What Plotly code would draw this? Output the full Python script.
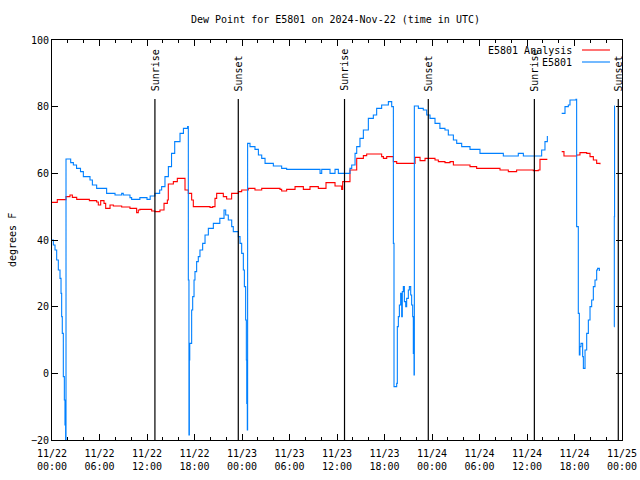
import plotly.graph_objects as go

# hours since 11/22 00:00 UTC
analysis_hours = [0.0, 0.67, 1.77, 2.27, 2.57, 3.12, 4.72, 5.64, 5.85, 6.15, 6.57, 6.78, 7.33, 7.75,
                  8.8, 9.85, 10.69, 10.9, 11.1, 12.59, 13.01, 13.64, 14.15, 14.57, 14.69, 15.33,
                  15.83, 16.59, 16.8, 17.22, 17.64, 17.85, 19.96, 20.3, 20.59, 20.8, 21.64, 22.06,
                  22.69, 23.54, 23.96, 24.8, 25.64, 26.49, 28.8, 29.01, 29.64, 30.7, 31.75, 32.59,
                  33.64, 34.61, 35.75, 36.59, 36.72, 37.64, 38.49, 39.33, 39.75, 41.64, 41.86,
                  42.28, 43.12, 43.54, 44.59, 45.86, 46.49, 47.12, 48.38, 48.8, 49.64, 50.28,
                  50.7, 52.8, 53.64, 56.59, 57.64, 58.69, 60.8, 61.43, 61.64, 62.57, 63.5,
                  64.38, 64.67, 66.27, 66.69, 67.54, 67.96, 68.38, 68.8, 69.22, 70.0,
                  71.0, 71.1]
analysis_dewpt = [51.3, 52.1, 53.0, 53.5, 52.8, 52.2, 51.8, 51.4, 50.5, 51.8, 51.0, 49.5, 50.5, 50.2,
                  49.9, 49.5, 48.2, 49.0, 49.2, 48.7, 48.5, 49.0, 51.0, 52.0, 56.8, 57.5,
                  58.5, 58.5, 55.0, 54.0, 52.0, 50.0, 49.8, 50.0, 52.5, 54.0, 53.0, 52.3,
                  54.0, 54.5, 55.0, 55.5, 55.0, 55.5, 55.2, 54.7, 55.2, 56.0, 55.2, 56.0,
                  55.5, 57.2, 56.2, 55.2, 57.5, 61.0, 64.5, 65.3, 65.8, 65.0, 64.5,
                  65.0, 63.5, 63.0, 63.0, 64.8, 63.8, 64.5, 64.0, 63.5, 63.2, 63.5,
                  62.5, 62.0, 61.5, 61.0, 60.5, 61.0, 60.8, 61.0, 64.2, 64.2, None,
                  66.5, 65.2, 65.5, 66.2, 66.0, 65.0, 64.0, 63.0, 62.7, None,
                  65.2, 65.2]

obs_hours = [0.0, 0.17, 0.38, 0.59, 0.8, 1.01, 1.14, 1.22, 1.3, 1.43, 1.56, 1.64, 1.72,
             1.77, 2.36, 2.7, 3.1, 3.6, 3.96, 4.8, 5.1, 5.64, 6.9, 7.96, 8.8, 9.0, 9.85, 10.06,
             11.1, 12.0, 12.4, 13.0, 13.6, 13.85, 14.27, 14.7, 15.1, 15.5, 16.17, 16.6, 17.13,
             17.22, 17.3, 17.35, 17.4, 17.64, 17.77, 17.94, 18.06, 18.27, 18.48, 18.69, 19.03,
             19.33, 19.75, 20.38, 21.2, 21.73, 21.94, 22.27, 22.7, 22.9, 23.54, 23.75, 23.96,
             24.17, 24.3, 24.46, 24.55, 24.6, 24.67, 24.71, 25.01, 25.64, 26.07, 26.49, 26.91,
             27.96, 29.01, 29.64, 29.7, 33.86, 34.07, 35.12, 35.75, 36.17, 37.43, 37.64, 37.86,
             38.28, 38.49, 38.9, 39.33, 39.96, 40.59, 41.01, 41.64, 42.49, 42.91, 43.12,
             43.2, 43.33, 43.54, 43.62, 43.75, 43.88, 44.04, 44.17, 44.25, 44.38, 44.51, 44.68,
             44.8, 45.01, 45.14, 45.31, 45.43, 45.56, 45.64, 45.73, 45.77, 46.28, 46.9, 47.33,
             47.75, 48.38, 49.0, 49.64, 50.06, 50.7, 51.12, 51.75, 52.8, 54.06, 57.01, 58.9,
             59.54, 61.85, 62.27, 62.57, 63.5,
             64.38, 64.8, 65.22, 65.43, 66.19, 66.27, 66.48, 66.61, 66.69, 66.82, 67.03, 67.12,
             67.33, 67.54, 67.75, 67.96, 68.17, 68.38, 68.59, 68.8, 68.92, 69.14, 70.0,
             71.0, 71.03, 71.06, 71.1]
obs_dewpt = [40.0, 38.5, 37.0, 34.0, 31.0, 28.5, 24.0, 17.0, 12.0, -1.0, -8.0, -15.5, -25.0,
             64.3, 63.2, 62.5, 61.5, 60.5, 59.0, 58.0, 56.5, 55.5, 54.0, 53.5, 54.0, 53.5, 52.7, 52.2,
             52.7, 52.2, 53.2, 54.0, 55.0, 56.0, 59.0, 62.0, 66.0, 69.5, 72.0, 73.5, 74.0,
             28.0, -18.5, 4.0, 9.0, 19.0, 23.0, 28.0, 30.5, 33.5, 35.0, 37.0, 39.0,
             41.5, 43.5, 45.0, 46.5, 49.0, 47.5, 46.0, 44.0, 42.5, 41.0, 39.0, 36.0,
             31.0, 26.0, 16.0, 4.0, -9.0, -17.0, 69.0, 68.0, 67.2, 65.5, 64.5, 63.0,
             62.2, 61.5, 61.2, 61.2, 60.0, 61.2, 60.0, 61.2, 60.0, 60.0, 61.5, 62.5,
             66.0, 68.0, 70.5, 73.0, 76.5, 77.5, 79.5, 80.5, 81.5, 80.0, 39.0,
             -4.0, -4.0, -3.0, 14.0, 17.0, 20.5, 24.0, 17.0, 24.5, 26.0, 21.5, 20.0,
             22.5, 25.0, 26.0, 23.5, 20.5, 17.0, 6.0, -0.5, 80.2, 79.5, 79.0, 77.5,
             76.5, 75.0, 73.5, 73.0, 71.5, 70.0, 69.0, 68.0, 67.2, 66.0, 65.2, 66.0,
             65.2, 67.0, 69.5, 71.2, None,
             78.0, 80.0, 80.5, 82.0, 82.2, 44.0, 18.0, 5.5, 8.0, 9.0, 5.0, 1.5,
             7.0, 12.0, 16.0, 20.0, 22.0, 26.0, 28.0, 31.0, 31.5, 30.7, None,
             14.0, 47.0, 80.2, 80.2]

sun_hours = [13.0, 23.53, 36.95, 47.53, 60.93, 71.53]
sun_labels = ["Sunrise", "Sunset", "Sunrise", "Sunset", "Sunrise", "Sunset"]

tick_hours = [0, 6, 12, 18, 24, 30, 36, 42, 48, 54, 60, 66, 72]
tick_text = ["11/22<br>00:00", "11/22<br>06:00", "11/22<br>12:00", "11/22<br>18:00",
             "11/23<br>00:00", "11/23<br>06:00", "11/23<br>12:00", "11/23<br>18:00",
             "11/24<br>00:00", "11/24<br>06:00", "11/24<br>12:00", "11/24<br>18:00",
             "11/25<br>00:00"]
y_ticks = [-20, 0, 20, 40, 60, 80, 100]

FONT = "DejaVu Sans Mono"
RED = "#ff0000"
BLUE = "#0080ff"

fig = go.Figure()
fig.add_trace(go.Scatter(x=analysis_hours, y=analysis_dewpt, mode="lines", name="E5801 Analysis",
                         line=dict(color=RED, width=1.1, shape="hv"), connectgaps=False))
fig.add_trace(go.Scatter(x=obs_hours, y=obs_dewpt, mode="lines", name="E5801",
                         line=dict(color=BLUE, width=1.1, shape="hv"), connectgaps=False))

for h, lab in zip(sun_hours, sun_labels):
    fig.add_shape(type="line", x0=h, x1=h, y0=-20, y1=82.3, xref="x", yref="y",
                  line=dict(color="black", width=1.2))
    fig.add_annotation(x=h, y=84.0, xref="x", yref="y", text=lab, textangle=-90,
                       showarrow=False, xanchor="center", yanchor="bottom",
                       font=dict(family=FONT, size=10, color="black"))

# legend (gnuplot style: text left of the sample line)
leg_rows = [(0.975, "E5801 Analysis", RED), (0.945, "E5801", BLUE)]
for yy, txt, col in leg_rows:
    fig.add_annotation(x=0.9158, y=yy, xref="paper", yref="paper", text=txt, showarrow=False,
                       xanchor="right", yanchor="middle", font=dict(family=FONT, size=10, color="black"))
    fig.add_shape(type="line", x0=0.9298, x1=0.9789, y0=yy, y1=yy, xref="paper", yref="paper",
                  line=dict(color=col, width=1.1))

# y axis title as a rotated annotation (keeps margins fixed)
fig.add_annotation(x=-40 / 570, y=0.5, xref="paper", yref="paper", text="degrees F", textangle=-90,
                   showarrow=False, xanchor="center", yanchor="middle",
                   font=dict(family=FONT, size=10, color="black"))

fig.update_layout(
    width=640, height=480, autosize=False,
    margin=dict(l=52, r=18, t=40, b=40, autoexpand=False),
    paper_bgcolor="white", plot_bgcolor="white",
    showlegend=False,
    font=dict(family=FONT, size=10, color="black"),
    title=dict(text="Dew Point for E5801 on 2024-Nov-22 (time in UTC)", x=(335.5 - 52) / 570,
               xanchor="center", xref="paper", y=1 - 19 / 480, yanchor="middle",
               font=dict(family=FONT, size=10, color="black")),
    xaxis=dict(range=[0, 72], tickvals=tick_hours, ticktext=tick_text, showgrid=False, zeroline=False,
               automargin=False, ticklabelstandoff=4, ticklabeloverflow="allow",
               showline=True, linecolor="black", linewidth=1, mirror="ticks",
               ticks="inside", ticklen=6, tickcolor="black", tickwidth=1,
               minor=dict(dtick=2, tick0=0, ticks="inside", ticklen=3, tickcolor="black", showgrid=False),
               tickfont=dict(family=FONT, size=10, color="black")),
    yaxis=dict(range=[-20, 100], tickvals=y_ticks, showgrid=False, zeroline=False,
               automargin=False,
               showline=True, linecolor="black", linewidth=1, mirror="ticks",
               ticks="inside", ticklen=6, tickcolor="black", tickwidth=1,
               tickfont=dict(family=FONT, size=10, color="black")),
)

fig.write_html("out.html", config={"displayModeBar": False},
               post_script="document.body.style.margin='0';document.body.style.overflow='hidden';")
